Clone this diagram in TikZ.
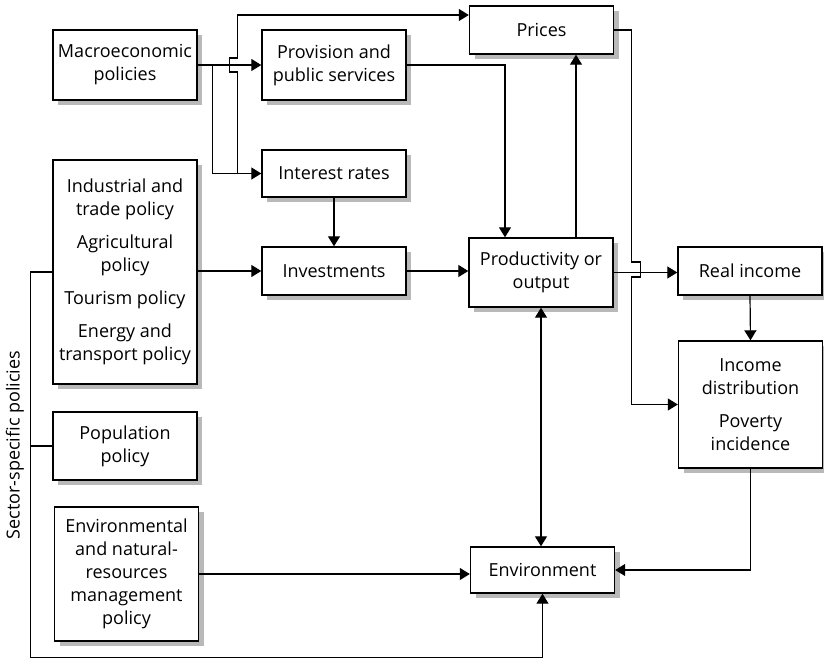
\documentclass[tikz,border=0pt]{standalone}
\usepackage{fontspec}
\setmainfont{Open Sans}
\usetikzlibrary{arrows.meta}
\tikzset{
  caja/.style={draw, line width=0.7pt, fill=white, align=center, minimum width=72pt,
    inner sep=2pt, font=\fontsize{9}{11.5}\selectfont},
  sombra/.style={fill=gray!55},
  flecha/.style={-{Triangle[length=5pt,width=6pt]}, line width=0.6pt},
  linea/.style={line width=0.6pt}
}
\begin{document}
\begin{tikzpicture}[x=0.5pt, y=-0.5pt]
   \useasboundingbox (0,0) rectangle (824,659);
   %sombras
   \foreach \cx/\cy/\hh in {125/65/35, 334/65/35, 334/173.5/23.5, 125/272/112, 334/271/24, 541.5/30/24, 541/272.5/34.5, 750/271/24, 750.5/404.5/63.5, 542.5/570/23, 125/446/34, 126.5/574/67}
      \fill[sombra] (\cx-67,\cy-\hh+5) rectangle (\cx+77,\cy+\hh+5);
   %cajas
   \node[caja, minimum height=35pt] (macro) at (125,65) {Macroeconomic\\policies};
   \node[caja, minimum height=35pt] (prov) at (334,65) {Provision and\\public services};
   \node[caja, minimum height=23.5pt] (interes) at (334,173.5) {Interest rates};
   \node[caja, minimum height=112pt] (sector) at (125,272) {Industrial and\\trade policy\\[5pt]Agricultural\\policy\\[5pt]Tourism policy\\[5pt]Energy and\\transport policy};
   \node[caja, minimum height=24pt] (inver) at (334,271) {Investments};
   \node[caja, minimum height=24pt] (precios) at (541.5,30) {Prices};
   \node[caja, minimum height=34.5pt] (prod) at (541,272.5) {Productivity or\\output};
   \node[caja, minimum height=24pt] (renta) at (750,271) {Real income};
   \node[caja, minimum height=63.5pt] (distrib) at (750.5,404.5) {Income\\distribution\\[5pt]Poverty\\incidence};
   \node[caja, minimum height=23pt] (entorno) at (542.5,570) {Environment};
   \node[caja, minimum height=34pt] (pobl) at (125,446) {Population\\policy};
   \node[caja, minimum height=67pt] (ambiental) at (126.5,574) {Environmental\\and natural-\\resources\\management\\policy};
   \node[rotate=90, font=\fontsize{9}{11.5}\selectfont] (etiqueta) at (15,445) {Sector-specific policies};
   %flechas politica macro
   \draw[flecha] (macro.east) -- (prov.west);
   \draw[flecha] ([xshift=7.5pt]macro.east) |- (interes.west);
   \draw[flecha] ([xshift=-12pt]interes.west) -- ++(0,-101.5) -- ++(-8,0) -- ++(0,-14) -- ++(8,0) |- ([yshift=7.5pt]precios.west);
   \draw[flecha] (prov.east) -| ([xshift=-18pt]prod.north);
   \draw[flecha] (interes.south) -- (inver.north);
   %flechas centrales
   \draw[flecha] (sector.east |- inver.west) -- (inver.west);
   \draw[flecha] (inver.east) -- (prod.west |- inver.east);
   \draw[flecha] ([xshift=17.5pt]prod.north) -- ([xshift=17.5pt]prod.north |- precios.south);
   \draw[flecha] (precios.east) -- ++(17,0) -- ++(0,232) -- ++(9,0) -- ++(0,15) -- ++(-9,0) |- (distrib.west);
   \draw[flecha] (prod.east) -- (prod.east -| renta.west);
   \draw[flecha] (renta.south) -- (distrib.north);
   \draw[flecha, {Triangle[length=5pt,width=6pt]}-{Triangle[length=5pt,width=6pt]}] (prod.south) -- (prod.south |- entorno.north);
   %flechas al entorno
   \draw[flecha] (distrib.south) |- (entorno.east);
   \draw[flecha] (ambiental.east) -- (ambiental.east -| entorno.west);
   \draw[flecha] (sector.west) -- ++(-22,0) |- ([yshift=-32pt]entorno.south) -- (entorno.south);
   \draw[linea] ([xshift=-11pt]pobl.west) -- (pobl.west);
\end{tikzpicture}
\end{document}
